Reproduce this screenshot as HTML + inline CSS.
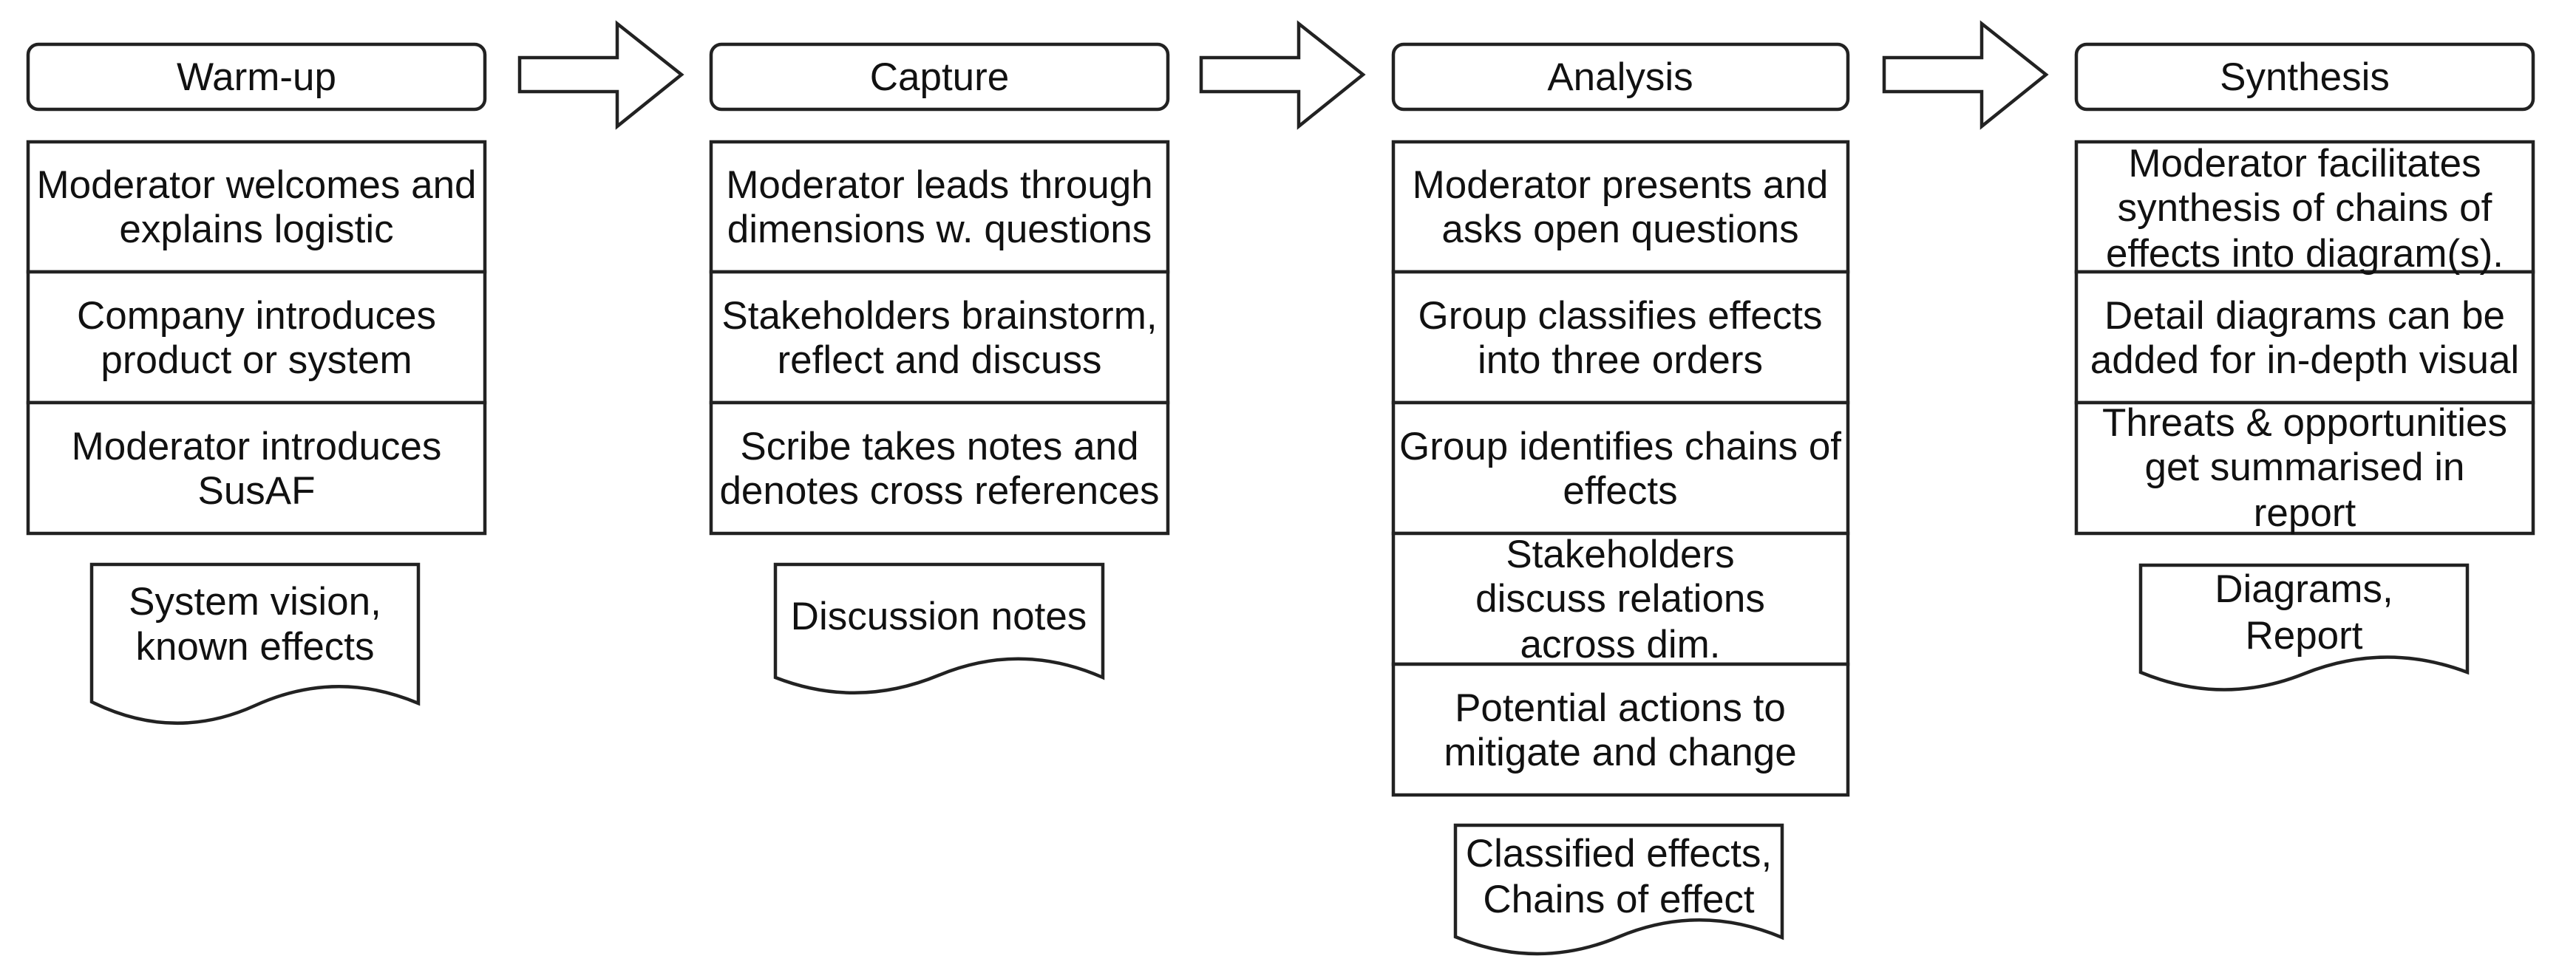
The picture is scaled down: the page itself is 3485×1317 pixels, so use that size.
<!DOCTYPE html>
<html><head><meta charset="utf-8"><style>
html,body{margin:0;padding:0;background:#fff;}
svg{display:block;}
text{font-family:"Liberation Sans",Arial,sans-serif;font-size:53px;fill:#111;text-anchor:middle;}
</style></head><body>
<svg width="3485" height="1317" viewBox="0 0 3485 1317" xmlns="http://www.w3.org/2000/svg">
<rect width="3485" height="1317" fill="#fff"/>
<g fill="#fff" stroke="#222" stroke-width="4.5">
<rect x="38" y="60" width="618" height="88" rx="14"/>
<rect x="962" y="60" width="618" height="88" rx="14"/>
<rect x="1885" y="60" width="615" height="88" rx="14"/>
<rect x="2809" y="60" width="618" height="88" rx="14"/>
<path d="M703 78 H835 V32 L922 101 L835 171 V124 H703 Z"/>
<path d="M1625 78 H1757 V32 L1844 101 L1757 171 V124 H1625 Z"/>
<path d="M2549 78 H2681 V32 L2768 101 L2681 171 V124 H2549 Z"/>
<rect x="38" y="192" width="618" height="176"/>
<rect x="38" y="368" width="618" height="177"/>
<rect x="38" y="545" width="618" height="177"/>
<rect x="962" y="192" width="618" height="176"/>
<rect x="962" y="368" width="618" height="177"/>
<rect x="962" y="545" width="618" height="177"/>
<rect x="1885" y="192" width="615" height="176"/>
<rect x="1885" y="368" width="615" height="177"/>
<rect x="1885" y="545" width="615" height="177"/>
<rect x="1885" y="722" width="615" height="177"/>
<rect x="1885" y="899" width="615" height="177"/>
<rect x="2809" y="192" width="618" height="176"/>
<rect x="2809" y="368" width="618" height="177"/>
<rect x="2809" y="545" width="618" height="177"/>
<path d="M124 764 H566 V952 Q455 905 345 955 T124 950 Z"/>
<path d="M1049 764 H1492 V917 Q1381 868 1270 914 T1049 917 Z"/>
<path d="M1969 1117 H2411 V1269 Q2300 1222 2190 1268 T1969 1268 Z"/>
<path d="M2896 765 H3338 V910 Q3227 868 3117 912 T2896 910 Z"/>
</g>
<text x="347" y="122">Warm-up</text>
<text x="1271" y="122">Capture</text>
<text x="2192" y="122">Analysis</text>
<text x="3118" y="122">Synthesis</text>
<text x="347" y="268">Moderator welcomes and</text>
<text x="347" y="328">explains logistic</text>
<text x="347" y="445">Company introduces</text>
<text x="347" y="505">product or system</text>
<text x="347" y="622">Moderator introduces</text>
<text x="347" y="682">SusAF</text>
<text x="345" y="832">System vision,</text>
<text x="345" y="893">known effects</text>
<text x="1271" y="268">Moderator leads through</text>
<text x="1271" y="328">dimensions w. questions</text>
<text x="1271" y="445">Stakeholders brainstorm,</text>
<text x="1271" y="505">reflect and discuss</text>
<text x="1271" y="622">Scribe takes notes and</text>
<text x="1271" y="682">denotes cross references</text>
<text x="1270" y="852">Discussion notes</text>
<text x="2192" y="268">Moderator presents and</text>
<text x="2192" y="328">asks open questions</text>
<text x="2192" y="445">Group classifies effects</text>
<text x="2192" y="505">into three orders</text>
<text x="2192" y="622">Group identifies chains of</text>
<text x="2192" y="682">effects</text>
<text x="2192" y="768">Stakeholders</text>
<text x="2192" y="828">discuss relations</text>
<text x="2192" y="890">across dim.</text>
<text x="2192" y="976">Potential actions to</text>
<text x="2192" y="1036">mitigate and change</text>
<text x="2190" y="1173">Classified effects,</text>
<text x="2190" y="1235">Chains of effect</text>
<text x="3118" y="239">Moderator facilitates</text>
<text x="3118" y="299">synthesis of chains of</text>
<text x="3118" y="361">effects into diagram(s).</text>
<text x="3118" y="445">Detail diagrams can be</text>
<text x="3118" y="505">added for in-depth visual</text>
<text x="3118" y="590">Threats &amp; opportunities</text>
<text x="3118" y="650">get summarised in</text>
<text x="3118" y="712">report</text>
<text x="3117" y="815">Diagrams,</text>
<text x="3117" y="878">Report</text>
</svg>
</body></html>
